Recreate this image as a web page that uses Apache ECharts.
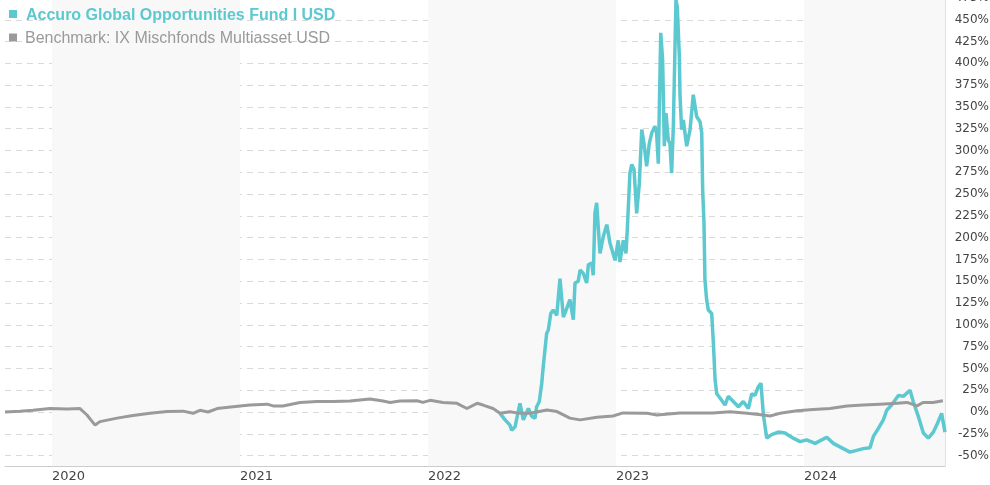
<!DOCTYPE html>
<html><head><meta charset="utf-8">
<script src="https://cdn.jsdelivr.net/npm/echarts@6/dist/echarts.min.js"></script>
<style>html,body{margin:0;padding:0;background:#fff}#c{width:990px;height:485px}</style>
</head><body><div id="c"></div>
<script>
const fundName = 'Accuro Global Opportunities Fund I USD';
const benchName = 'Benchmark: IX Mischfonds Multiasset USD';
const xStart = 2019.75, xEnd = 2024.75;
const yearLabels = [2020, 2021, 2022, 2023, 2024];
const shadedYears = [2020, 2022, 2024];
const yMin = -50, yMax = 475, yStep = 25;

// dates as decimal years, values in %
const benchDates = [2019.750,2019.830,2019.899,2019.989,2020.080,2020.149,2020.186,2020.229,2020.255,2020.346,2020.431,2020.521,2020.612,2020.697,2020.750,2020.787,2020.830,2020.878,2020.963,2021.053,2021.144,2021.176,2021.229,2021.319,2021.410,2021.495,2021.585,2021.691,2021.761,2021.798,2021.851,2021.941,2021.973,2022.011,2022.080,2022.154,2022.207,2022.261,2022.293,2022.346,2022.383,2022.436,2022.473,2022.543,2022.633,2022.686,2022.755,2022.809,2022.899,2022.984,2023.037,2023.165,2023.218,2023.340,2023.516,2023.606,2023.697,2023.782,2023.819,2023.872,2023.963,2024.048,2024.138,2024.229,2024.314,2024.404,2024.495,2024.548,2024.601,2024.633,2024.686,2024.739];
const benchValues = [0,1,2,4,3.5,4,-3.4,-15,-11,-7,-4,-1.5,0.5,1,-1.5,2,0,4,6,8,9,7,7,11,12,12,12.6,15,12.6,11,12.6,13,11,13.4,11,10,4,10,8,4,-1.5,0.3,-1,-1.5,2.3,0.5,-7,-9,-6,-4.6,-1,-1.5,-3.4,-1,-1,0.3,-1.5,-3.4,-4.6,-1.5,1.5,3,4,7,8,9,10,11,7,11,11,13];

const fundDates = [2022.383,2022.410,2022.436,2022.445,2022.463,2022.489,2022.507,2022.534,2022.552,2022.569,2022.578,2022.592,2022.605,2022.613,2022.622,2022.631,2022.640,2022.653,2022.666,2022.685,2022.702,2022.711,2022.720,2022.738,2022.755,2022.773,2022.782,2022.799,2022.809,2022.826,2022.844,2022.853,2022.871,2022.879,2022.888,2022.897,2022.915,2022.932,2022.951,2022.968,2022.995,2023.012,2023.021,2023.039,2023.053,2023.060,2023.074,2023.084,2023.096,2023.110,2023.124,2023.137,2023.149,2023.163,2023.177,2023.190,2023.207,2023.216,2023.225,2023.238,2023.248,2023.257,2023.266,2023.278,2023.287,2023.296,2023.305,2023.319,2023.326,2023.337,2023.340,2023.349,2023.358,2023.376,2023.394,2023.411,2023.429,2023.447,2023.456,2023.461,2023.468,2023.473,2023.482,2023.491,2023.509,2023.518,2023.527,2023.536,2023.553,2023.580,2023.597,2023.624,2023.651,2023.677,2023.704,2023.722,2023.739,2023.757,2023.771,2023.784,2023.802,2023.828,2023.863,2023.899,2023.943,2023.979,2024.014,2024.059,2024.121,2024.156,2024.191,2024.245,2024.280,2024.315,2024.351,2024.369,2024.395,2024.422,2024.440,2024.466,2024.502,2024.528,2024.564,2024.581,2024.608,2024.635,2024.661,2024.688,2024.706,2024.732,2024.750];
const fundValues = [-1.5,-9,-15,-21,-17,10,-9,4,-5,-7,6,12,33,52,71,90,94,113,117,111,153,155,109,119,129,106,148,150,163,159,148,169,171,157,228,240,182,201,215,194,174,197,172,197,182,209,274,284,278,228,262,324,308,282,308,320,328,320,285,435,404,305,343,312,308,274,328,473,465,408,366,324,335,305,324,364,339,333,320,255,217,152,129,117,113,79,37,21,16,8,18,12,6,12,4,21,19,29,33,-3.4,-30,-26,-23,-24,-30,-34,-32,-36,-29,-36,-40,-46,-44,-42,-41,-28,-19,-9,2,8,19,18,25,12,-5,-24,-30,-23,-15,-1.5,-23];

const fundColor = '#5cc8cf';
const benchColor = '#9a9a9a';
const zip = (a, b) => a.map((d, i) => [d, b[i]]);

const chart = echarts.init(document.getElementById('c'), null, {renderer: 'canvas'});
const labelFont = 'DejaVu Sans';
chart.setOption({
  animation: false,
  backgroundColor: '#ffffff',
  grid: [
    {left: 5, right: 45, top: -2, bottom: 19, outerBoundsMode: 'none', containLabel: false},
    {left: 5, right: 45, top: -2, bottom: 29.4, outerBoundsMode: 'none', containLabel: false}
  ],
  xAxis: [
    {
      gridIndex: 0, type: 'value', min: xStart, max: xEnd, interval: 0.25,
      axisLine: {onZero: false, lineStyle: {color: '#cccccc', width: 1}},
      axisTick: {show: false}, splitLine: {show: false},
      axisLabel: {
        formatter: v => (yearLabels.indexOf(Math.round(v * 1000) / 1000) >= 0 ? String(Math.round(v)) : ''),
        align: 'left', margin: 4, color: '#444', fontFamily: labelFont, fontSize: 13,
        showMinLabel: true, showMaxLabel: true, hideOverlap: false
      }
    },
    {gridIndex: 1, type: 'value', min: xStart, max: xEnd, show: false}
  ],
  yAxis: [
    {
      gridIndex: 0, type: 'value', min: 0, max: 1, position: 'right',
      axisLine: {show: true, lineStyle: {color: '#e2e2e2'}},
      axisTick: {show: false}, axisLabel: {show: false}, splitLine: {show: false}
    },
    {
      gridIndex: 1, type: 'value', min: yMin, max: yMax, interval: yStep, position: 'right',
      axisLine: {show: false}, axisTick: {show: false},
      splitLine: {show: true, lineStyle: {color: '#d9d9d9', type: [6, 5], width: 1}},
      axisLabel: {formatter: v => v + '%', align: 'right', margin: 44, color: '#444', fontFamily: labelFont, fontSize: 12}
    }
  ],
  series: [
    {
      type: 'line', xAxisIndex: 0, yAxisIndex: 0, data: [], z: -1, silent: true,
      markArea: {
        silent: true,
        itemStyle: {color: '#f8f8f8'},
        data: shadedYears.map(y => [{xAxis: y}, {xAxis: Math.min(y + 1, xEnd)}])
      }
    },
    {
      name: fundName, type: 'line', xAxisIndex: 1, yAxisIndex: 1,
      data: zip(fundDates, fundValues), showSymbol: false, symbol: 'none',
      lineStyle: {color: fundColor, width: 3.5}, itemStyle: {color: fundColor}, z: 3
    },
    {
      name: benchName, type: 'line', xAxisIndex: 1, yAxisIndex: 1,
      data: zip(benchDates, benchValues), showSymbol: false, symbol: 'none',
      lineStyle: {color: benchColor, width: 3}, itemStyle: {color: benchColor}, z: 4
    }
  ],
  graphic: [
    {type: 'rect', left: 9, top: 10, shape: {width: 8, height: 8}, style: {fill: fundColor}, z: 100},
    {type: 'text', x: 26, y: 15.5, style: {text: fundName, fill: fundColor, font: 'bold 16px "Liberation Sans", Arial, sans-serif', verticalAlign: 'middle'}, z: 100},
    {type: 'rect', left: 9, top: 33.5, shape: {width: 8, height: 8}, style: {fill: benchColor}, z: 100},
    {type: 'text', x: 25, y: 38.5, style: {text: benchName, fill: benchColor, font: '16px "Liberation Sans", Arial, sans-serif', verticalAlign: 'middle'}, z: 100}
  ]
});
</script>
</body></html>
